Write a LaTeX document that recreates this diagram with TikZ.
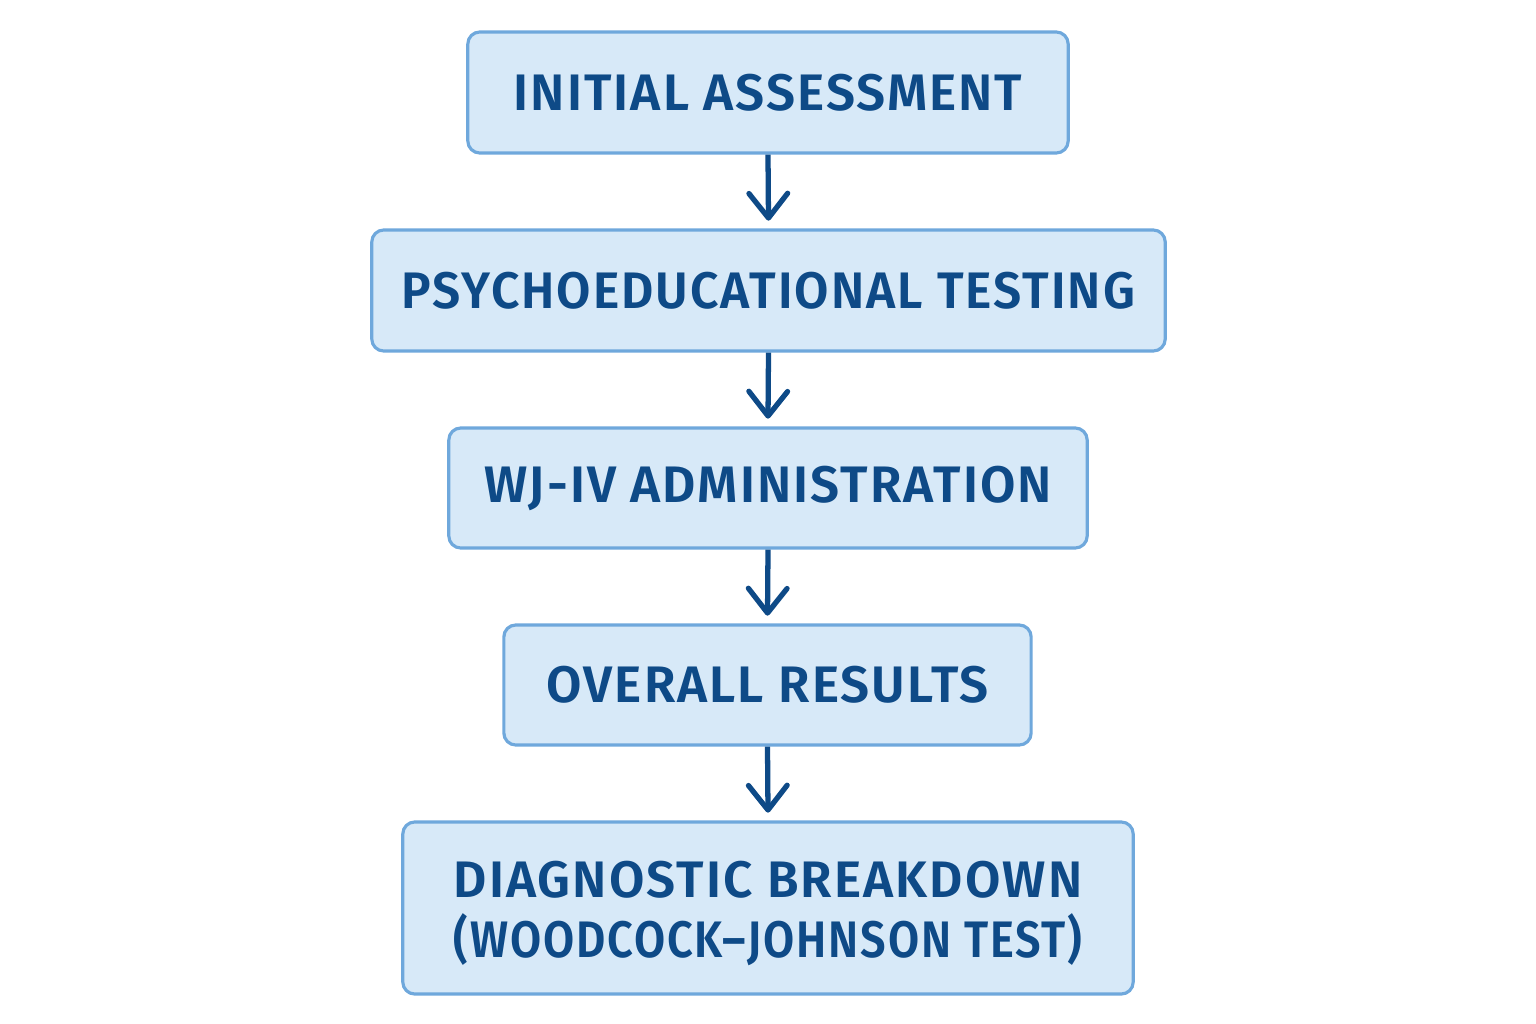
\documentclass[tikz,border=0pt]{standalone}
\usepackage{fontspec}
\setmainfont{Fira Sans}[BoldFont={Fira Sans SemiBold}]
\usetikzlibrary{arrows.meta}
\definecolor{boxfill}{HTML}{D7E9F8}
\definecolor{boxline}{HTML}{6FA8DC}
\definecolor{txt}{HTML}{0E4A87}
\newfontfamily\boxfont{Fira Sans SemiBold}[LetterSpace=4]
\tikzset{
  flowbox/.style={draw=boxline, fill=boxfill, line width=0.9pt, rounded corners=0.12cm,
    text=txt, font=\boxfont\fontsize{14.6}{16.6}\selectfont, align=center, inner sep=0pt},
  flowarrow/.style={draw=txt, line width=1.5pt, -{Straight Barb[length=7pt,width=11pt,line width=1.5pt,round]}}
}
\begin{document}
\begin{tikzpicture}[x=0.01cm,y=-0.01cm]
\useasboundingbox (0,0) rectangle (1536,1024);
\node[flowbox, minimum width=6cm, minimum height=1.21cm] (a) at (768,92.5) {INITIAL ASSESSMENT};
\node[flowbox, minimum width=7.93cm, minimum height=1.21cm] (b) at (768.5,290.5) {\scalebox{0.97}[1]{PSYCHOEDUCATIONAL TESTING}};
\node[flowbox, minimum width=6.38cm, minimum height=1.20cm] (c) at (768,488) {WJ-IV ADMINISTRATION};
\node[flowbox, minimum width=5.27cm, minimum height=1.20cm] (d) at (767.5,685) {OVERALL RESULTS};
\node[flowbox, minimum width=7.30cm, minimum height=1.72cm] (e) at (768,908) {\begin{tabular}{@{}c@{}}\rule{0pt}{16.2pt}DIAGNOSTIC BREAKDOWN\\[-0.4pt]\scalebox{0.88}[1]{(WOODCOCK–JOHNSON TEST)}\end{tabular}};
\draw[flowarrow] (a.south) -- ([yshift=2.2pt]b.north);
\draw[flowarrow] (b.south) -- ([yshift=2.2pt]c.north);
\draw[flowarrow] (c.south) -- ([yshift=2.2pt]d.north);
\draw[flowarrow] (d.south) -- ([yshift=2.2pt]e.north);
\end{tikzpicture}
\end{document}
